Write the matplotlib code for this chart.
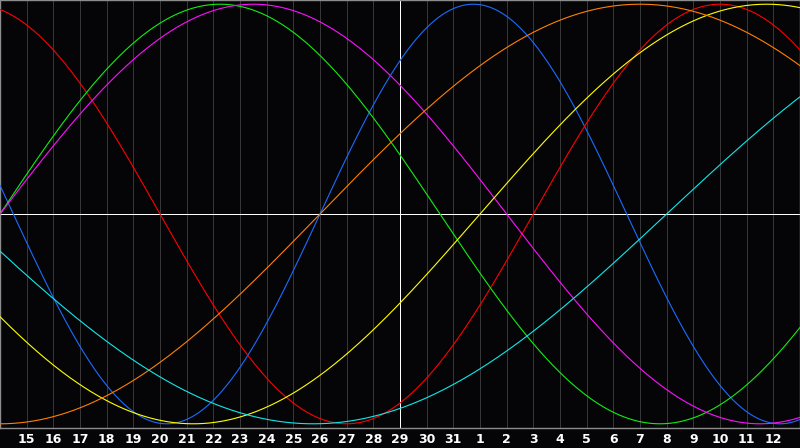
import numpy as np
import matplotlib
matplotlib.use("Agg")
from matplotlib import pyplot as plt

# biorhythm cycles (days) and their colours
cycle_names = ["physical", "emotional", "intellectual", "intuitive", "aesthetic", "awareness", "spiritual"]
cycle_days = [23, 28, 33, 38, 43, 48, 53]
cycle_colors = ["#1a6cff", "#ff0000", "#10ee10", "#ff10ff", "#ffff00", "#ff8000", "#10e8e8"]

# days lived at the left edge of the chart (day 14)
age_at_start = 27588
today_index = 15  # day 29 in the middle

day_labels = [15, 16, 17, 18, 19, 20, 21, 22, 23, 24, 25, 26, 27, 28, 29,
              30, 31, 1, 2, 3, 4, 5, 6, 7, 8, 9, 10, 11, 12]
n_days = 30

bg = "#050508"
fig = plt.figure(figsize=(8, 4.48), dpi=100, facecolor=bg)
ax = fig.add_axes([0, 20 / 448, 1, 428 / 448])
ax.set_facecolor(bg)

# day grid
for k in range(1, n_days):
    ax.axvline(k, color="#363636", lw=0.6, zorder=1, antialiased=False)
ax.axvline(today_index, color="white", lw=0.6, zorder=2, antialiased=False)
ax.axhline(0, color="white", lw=0.6, zorder=2, antialiased=False)

t = np.linspace(0, n_days, 1201)
for name, p, c in zip(cycle_names, cycle_days, cycle_colors):
    ax.plot(t, np.sin(2 * np.pi * (age_at_start + t) / p), color=c, lw=0.8, zorder=3)

ax.set_xlim(0, n_days)
ax.set_ylim(-1.02, 1.02)
ax.set_xticks([])
ax.set_yticks([])
for s in ax.spines.values():
    s.set_color("#8c8c8c")
    s.set_linewidth(1.0)

for k, lab in enumerate(day_labels, start=1):
    fig.text(k / n_days, 9 / 448, str(lab), color="white", fontsize=9,
             fontweight="bold", ha="center", va="center", family="DejaVu Sans")

fig.savefig("out.png", dpi=100, facecolor=bg)
